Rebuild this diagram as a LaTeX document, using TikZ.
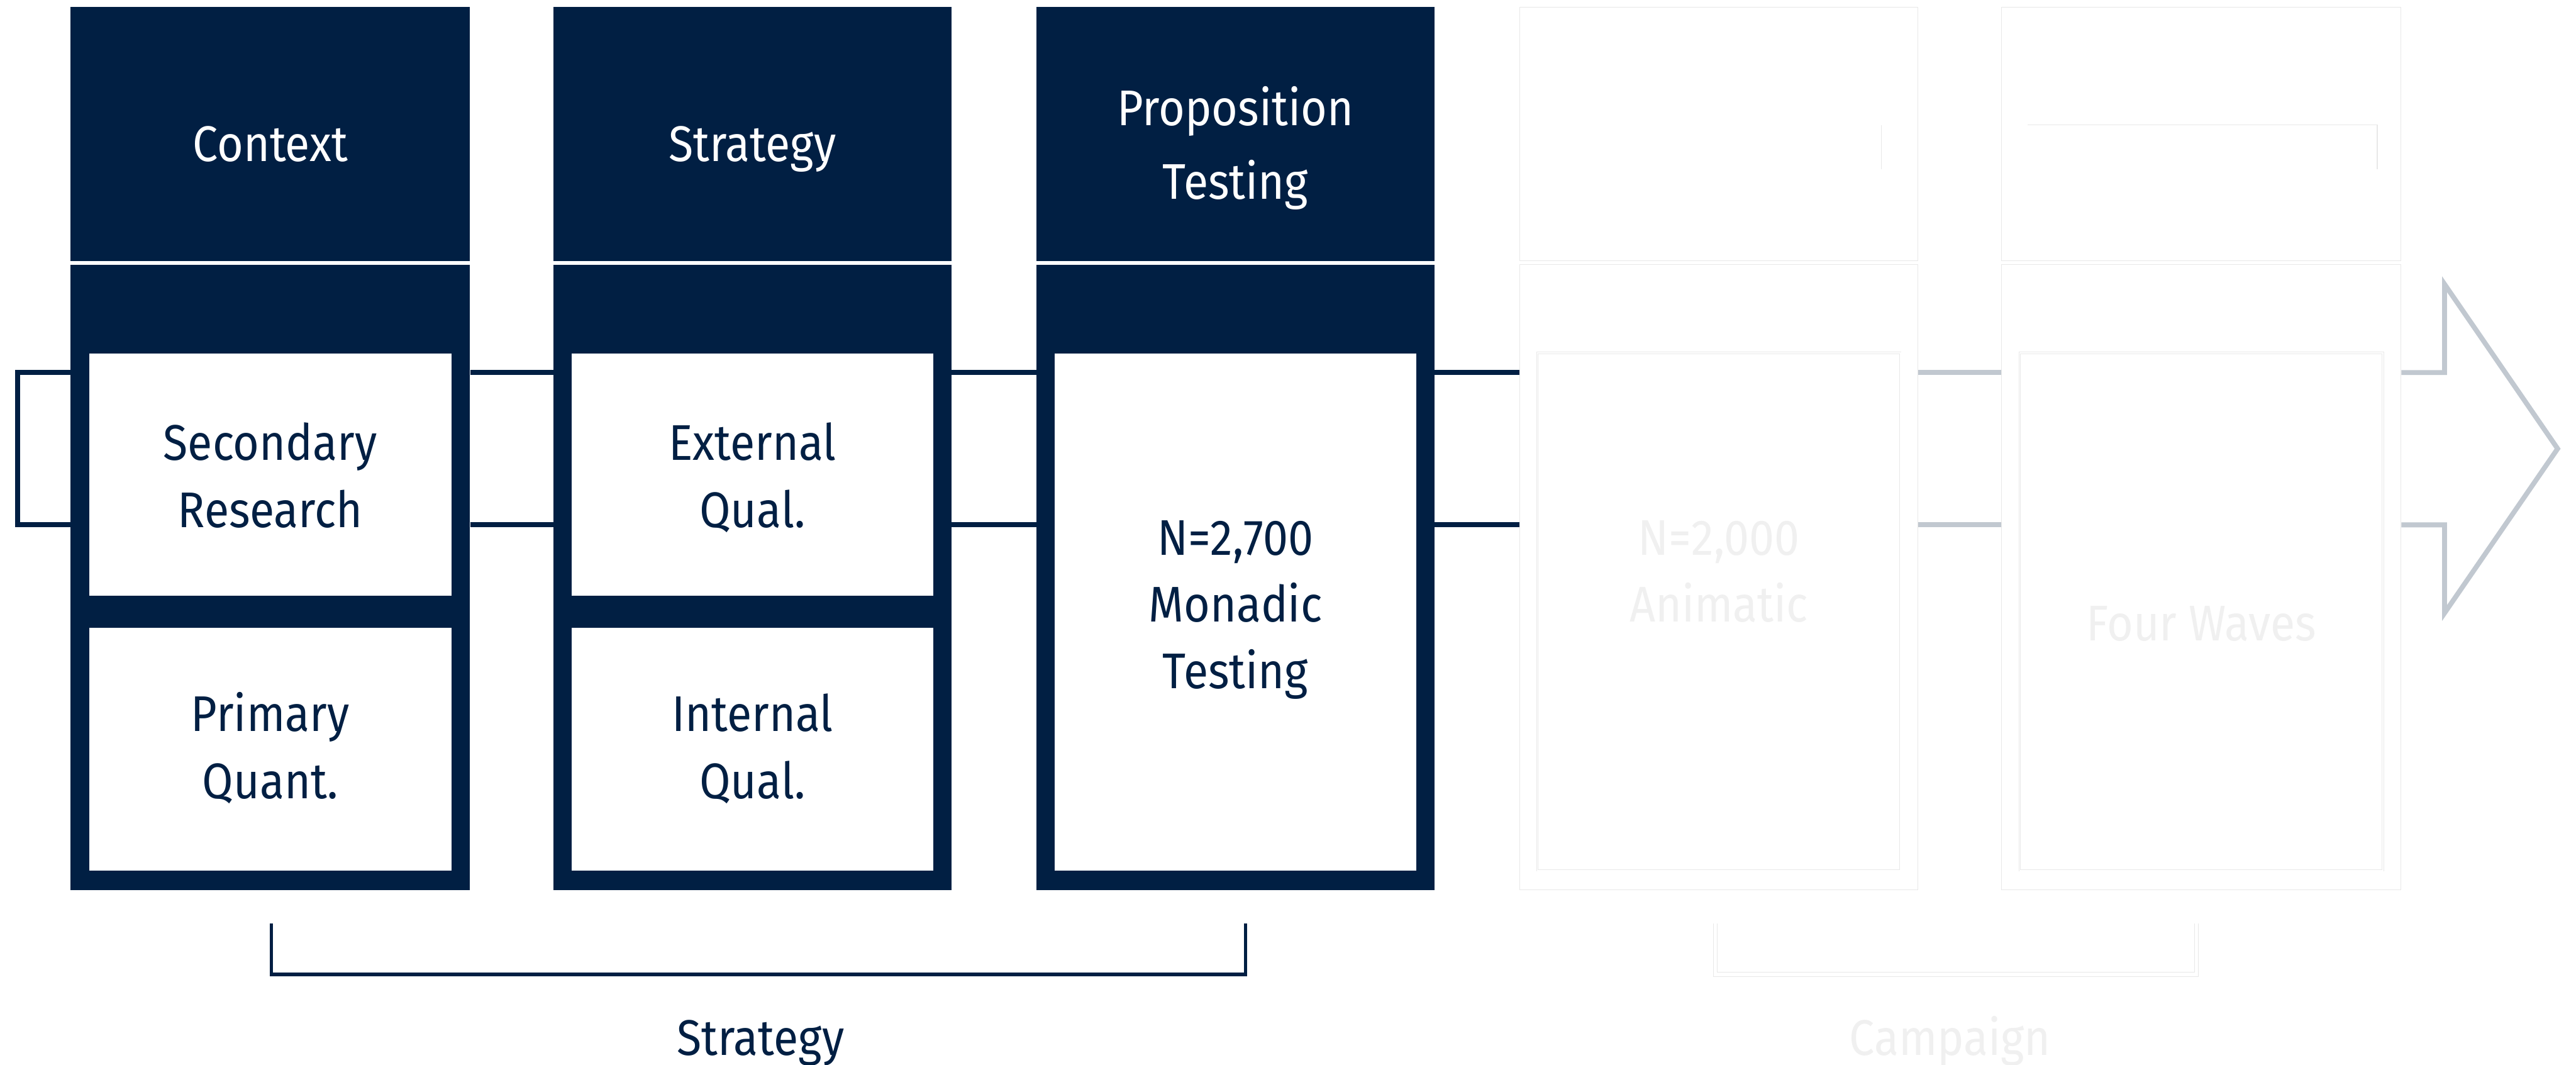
\documentclass[tikz,border=0pt]{standalone}
\usepackage{fontspec}
\setmainfont{Fira Sans}[FakeStretch=0.9]
\definecolor{navy}{RGB}{1,31,67}
\definecolor{lgrey}{RGB}{193,200,208}
\definecolor{faint}{RGB}{232,232,232}
\definecolor{fainttext}{RGB}{240,240,240}
\begin{document}
\begin{tikzpicture}[x=1pt,y=-1pt,
  lbl/.style={font=\fontsize{30.5}{40}\selectfont, inner sep=0pt, anchor=base},
  hdrbox/.style={fill=navy, draw=none, inner sep=0pt, minimum width=#1, minimum height=154.5pt},
  bodybox/.style={fill=navy, draw=none, inner sep=0pt, minimum width=#1, minimum height=380.5pt},
  fhdrbox/.style={fill=white, draw=faint, line width=0.4pt, inner sep=0pt, minimum width=#1, minimum height=154.5pt},
  fbodybox/.style={fill=white, draw=faint, line width=0.4pt, inner sep=0pt, minimum width=#1, minimum height=380.5pt},
  inbox/.style={fill=white, draw=none, inner sep=0pt, minimum width=220.4pt, minimum height=#1},
  finbox/.style={fill=white, draw=faint, double=white, double distance=0.6pt, line width=0.35pt, inner sep=0pt, minimum width=221pt, minimum height=#1},
  navyline/.style={draw=navy, line width=3pt, line join=miter},
  greyline/.style={draw=lgrey, line width=3pt, line join=miter},
  bracket/.style={draw=navy, line width=2pt, line join=miter},
  fbracket/.style={draw=faint, line width=0.4pt, double=white, double distance=2pt, line join=miter}
]
\useasboundingbox (0,0) rectangle (1568,648);
\fill[white] (0,0) rectangle (1568,648);

% column headers
\node[hdrbox=243pt] (h1) at (164.5,81.55) {};
\node[hdrbox=242pt] (h2) at (458,81.55) {};
\node[hdrbox=242pt] (h3) at (752,81.55) {};
\node[fhdrbox=242.5pt] (h4) at (1046.25,81.55) {};
\node[fhdrbox=243.2pt] (h5) at (1339.9,81.55) {};

% column bodies
\node[bodybox=243pt] (c1) at (164.5,351.25) {};
\node[bodybox=242pt] (c2) at (458,351.25) {};
\node[bodybox=242pt] (c3) at (752,351.25) {};
\node[fbodybox=242.5pt] (c4) at (1046.25,351.25) {};
\node[fbodybox=243.2pt] (c5) at (1339.9,351.25) {};

% faint marks in hidden headers
\draw[faint, line width=0.4pt] (1145,76) -- (1145,103);
\draw[faint, line width=0.6pt] (1234,76) -- (1447,76) -- (1447,103);

% inner white boxes
\node[inbox=147.5pt] (b1a) at (164.5,288.75) {};
\node[inbox=147.7pt] (b1b) at (164.5,455.85) {};
\node[inbox=147.5pt] (b2a) at (458,288.75) {};
\node[inbox=147.7pt] (b2b) at (458,455.85) {};
\node[inbox=314.7pt] (b3) at (752,372.35) {};
\node[finbox=315pt] (b4) at (1046.25,372.2) {};
\node[finbox=315pt] (b5) at (1339.9,372.2) {};

% connector coordinates
\coordinate (ytop) at (0,226.7);
\coordinate (ybot) at (0,319.4);
\coordinate (lb) at (10.6,0);
\coordinate (ah) at (1488,0);
\coordinate (arTop) at (1488,173);
\coordinate (arBot) at (1488,373);
\coordinate (tip) at (1556.8,273.05);

% navy connectors
\draw[navyline] (c1.west |- ytop) -- (lb |- ytop) -- (lb |- ybot) -- (c1.west |- ybot);
\draw[navyline] (c1.east |- ytop) -- (c2.west |- ytop);
\draw[navyline] (c1.east |- ybot) -- (c2.west |- ybot);
\draw[navyline] (c2.east |- ytop) -- (c3.west |- ytop);
\draw[navyline] (c2.east |- ybot) -- (c3.west |- ybot);
\draw[navyline] (c3.east |- ytop) -- (c4.west |- ytop);
\draw[navyline] (c3.east |- ybot) -- (c4.west |- ybot);
% grey connectors
\draw[greyline] (c4.east |- ytop) -- (c5.west |- ytop);
\draw[greyline] (c4.east |- ybot) -- (c5.west |- ybot);
\draw[greyline] (c5.east |- ytop) -- (ah |- ytop) -- (arTop) -- (tip) -- (arBot) -- (ah |- ybot) -- (c5.east |- ybot);

% header texts
\node[lbl, text=white] (t1) at (164.5,98) {Context};
\node[lbl, text=white] (t2) at (458,98) {Strategy};
\node[lbl, text=white] (t3a) at (752,76.5) {Proposition};
\node[lbl, text=white] (t3b) at (752,121) {Testing};

% box texts
\node[lbl, text=navy] (s1) at (164.5,280) {Secondary};
\node[lbl, text=navy] (s2) at (164.5,321) {Research};
\node[lbl, text=navy] (p1) at (164.5,445) {Primary};
\node[lbl, text=navy] (p2) at (164.5,486) {Quant.};
\node[lbl, text=navy] (e1) at (458,280) {External};
\node[lbl, text=navy] (e2) at (458,321) {Qual.};
\node[lbl, text=navy] (i1) at (458,445) {Internal};
\node[lbl, text=navy] (i2) at (458,486) {Qual.};
\node[lbl, text=navy] (m1) at (752,337.7) {N=2,700};
\node[lbl, text=navy] (m2) at (752,378.4) {Monadic};
\node[lbl, text=navy] (m3) at (752,418.8) {Testing};
\node[lbl, text=fainttext] (a1) at (1046.25,337.7) {N=2,000};
\node[lbl, text=fainttext] (a2) at (1046.25,378.4) {Animatic};
\node[lbl, text=fainttext] (w1) at (1339.9,390) {Four Waves};

% brackets
\coordinate (sbL) at (165.3,562);
\coordinate (sbR) at (758.2,562);
\draw[bracket] (sbL) -- (165.3,593) -- (758.2,593) -- (sbR);
\coordinate (cbL) at (1044,562);
\coordinate (cbR) at (1337,562);
\draw[fbracket] (cbL) -- (1044,593) -- (1337,593) -- (cbR);

\node[lbl, text=navy] (strat) at (463,642) {Strategy};
\node[lbl, text=fainttext] (camp) at (1187,642) {Campaign};
\end{tikzpicture}
\end{document}
